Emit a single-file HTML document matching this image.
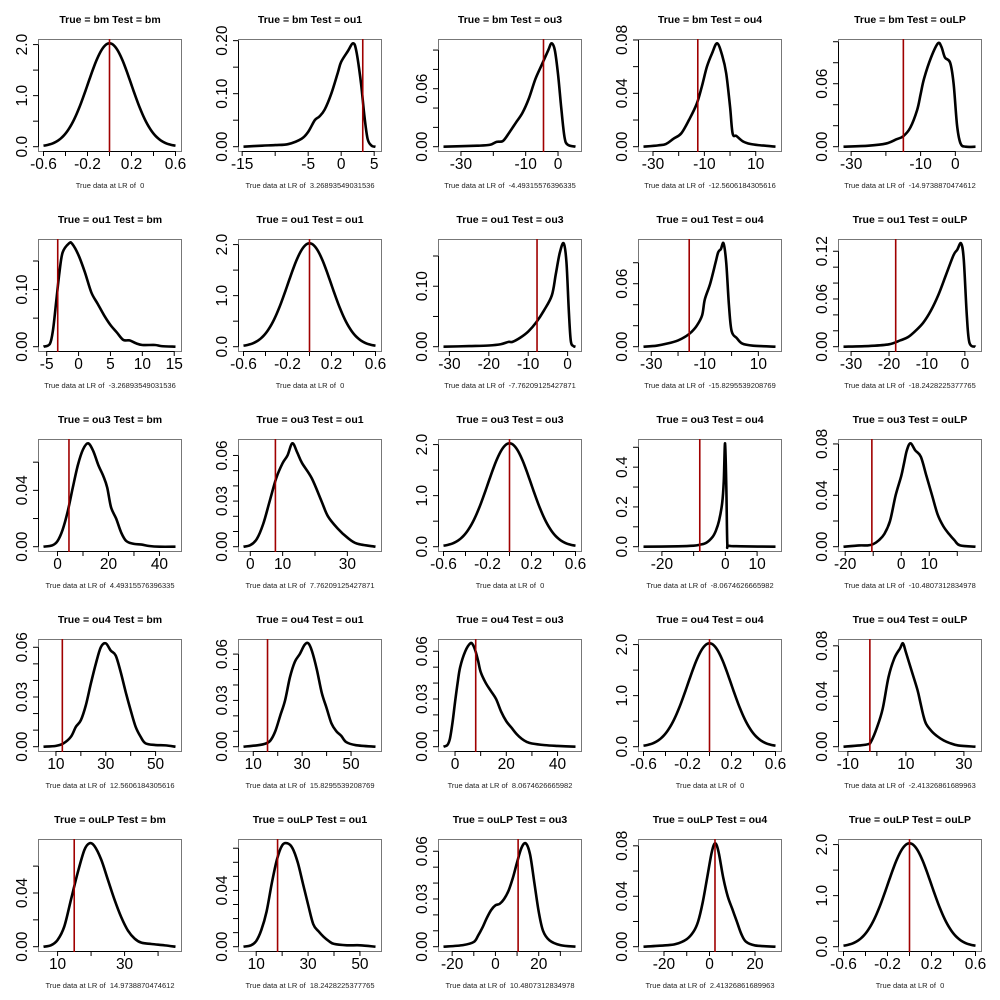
<!DOCTYPE html>
<html><head><meta charset="utf-8">
<style>
html,body{margin:0;padding:0;background:#fff;}
svg{display:block;}
text{font-family:"Liberation Sans",sans-serif;}
</style></head>
<body>
<svg id="s" width="1000" height="1000" xmlns="http://www.w3.org/2000/svg"></svg>
<script>
function gauss(){var p=[];for(var x=-0.6;x<=0.6001;x+=0.02){p.push([x,2.025*Math.exp(-x*x/(2*0.197*0.197))]);}return p;}
var G={a:-0.6,b:0.6,pk:2.025,yt:[0,0.5,1,1.5,2],yl:{0:"0.0",1:"1.0",2:"2.0"},xt:[-0.6,-0.4,-0.2,0,0.2,0.4,0.6],xl:{"-0.6":"-0.6","-0.2":"-0.2","0.2":"0.2","0.6":"0.6"},red:0,sub:"0",pts:gauss()};
function g(t,s){var o=Object.assign({},G);o.t=t;return o;}
var P=[
 [g("True = bm Test = bm"),
  {t:"True = bm Test = ou1",a:-14.8,b:5.2,pk:0.195,yt:[0,.05,.1,.15,.2],yl:{0:"0.00",0.1:"0.10",0.2:"0.20"},xt:[-15,-10,-5,0,5],xl:{"-15":"-15","-5":"-5","0":"0","5":"5"},red:3.269,sub:"3.26893549031536",
   pts:[[-14.8,0],[-12,0.002],[-10,0.003],[-8,0.005],[-6,0.015],[-5,0.028],[-4,0.05],[-3.3,0.057],[-2.5,0.07],[-1.5,0.1],[-0.5,0.14],[0,0.16],[1,0.18],[1.8,0.195],[2.3,0.18],[3,0.12],[3.5,0.06],[4,0.015],[4.6,0.002],[5.2,0]]},
  {t:"True = bm Test = ou3",a:-35.4,b:5.4,pk:0.107,yt:[0,.02,.04,.06,.08,.1],yl:{0:"0.00",0.06:"0.06"},xt:[-30,-20,-10,0],xl:{"-30":"-30","-10":"-10","0":"0"},red:-4.493,sub:"-4.49315576396335",
   pts:[[-35.4,0],[-25,0.001],[-21,0.002],[-19,0.005],[-17,0.006],[-15,0.015],[-13,0.025],[-11,0.035],[-9,0.05],[-7,0.07],[-5,0.085],[-3,0.1],[-2,0.107],[-1,0.1],[0,0.075],[1,0.04],[2,0.01],[3,0.002],[5.4,0]]},
  {t:"True = bm Test = ou4",a:-33.7,b:17.7,pk:0.0775,yt:[0,.02,.04,.06,.08],yl:{0:"0.00",0.04:"0.04",0.08:"0.08"},xt:[-30,-20,-10,0,10],xl:{"-30":"-30","-10":"-10","10":"10"},red:-12.56,sub:"-12.5606184305616",
   pts:[[-33.7,0],[-28,0.001],[-25,0.002],[-22,0.006],[-19,0.01],[-16,0.02],[-13,0.032],[-11,0.045],[-9,0.06],[-7,0.07],[-5,0.0775],[-3,0.068],[-1.5,0.055],[0,0.03],[1,0.01],[2.5,0.008],[5,0.004],[8,0.002],[12,0.001],[17.7,0]]},
  {t:"True = bm Test = ouLP",a:-32.2,b:5.8,pk:0.0985,yt:[0,.02,.04,.06,.08,.1],yl:{0:"0.00",0.06:"0.06"},xt:[-30,-20,-10,0],xl:{"-30":"-30","-10":"-10","0":"0"},red:-14.97,sub:"-14.9738870474612",
   pts:[[-32.2,0],[-25,0.001],[-20,0.003],[-17,0.007],[-15,0.01],[-13,0.018],[-11,0.035],[-10,0.05],[-9,0.065],[-7,0.085],[-5,0.0985],[-4,0.095],[-3,0.085],[-1.5,0.08],[-0.5,0.06],[0.5,0.02],[1.5,0.003],[3,0],[5.8,0]]}],
 [{t:"True = ou1 Test = bm",a:-5.5,b:15.2,pk:0.181,yt:[0,.05,.1,.15],yl:{0:"0.00",0.1:"0.10"},xt:[-5,0,5,10,15],xl:{"-5":"-5","0":"0","5":"5","10":"10","15":"15"},red:-3.269,sub:"-3.26893549031536",
   pts:[[-5.5,0],[-4.5,0.005],[-4,0.03],[-3.5,0.08],[-3,0.13],[-2.5,0.165],[-1.5,0.181],[-1,0.18],[0,0.16],[1,0.13],[2,0.095],[3,0.075],[4,0.055],[5,0.038],[6,0.025],[7,0.012],[8,0.011],[9,0.006],[10,0.003],[12,0.003],[13,0.001],[15.2,0]]},
  g("True = ou1 Test = ou1"),
  {t:"True = ou1 Test = ou3",a:-31.5,b:2,pk:0.171,yt:[0,.05,.1,.15],yl:{0:"0.00",0.1:"0.10"},xt:[-30,-20,-10,0],xl:{"-30":"-30","-20":"-20","-10":"-10","0":"0"},red:-7.762,sub:"-7.76209125427871",
   pts:[[-31.5,0],[-25,0.001],[-20,0.002],[-17,0.004],[-15,0.008],[-14,0.008],[-12,0.015],[-10,0.025],[-8,0.04],[-6,0.06],[-4,0.085],[-3,0.12],[-2,0.155],[-1,0.171],[-0.3,0.14],[0.3,0.06],[0.8,0.01],[1.5,0.001],[2,0]]},
  {t:"True = ou1 Test = ou4",a:-32.9,b:16.4,pk:0.0985,yt:[0,.02,.04,.06,.08],yl:{0:"0.00",0.06:"0.06"},xt:[-30,-20,-10,0,10],xl:{"-30":"-30","-10":"-10","10":"10"},red:-15.83,sub:"-15.8295539208769",
   pts:[[-32.9,0],[-28,0.001],[-24,0.003],[-20,0.006],[-17,0.01],[-15,0.014],[-13,0.02],[-11,0.03],[-10,0.045],[-8,0.06],[-6,0.08],[-5,0.09],[-4,0.093],[-3,0.0985],[-2,0.08],[-1,0.04],[0,0.015],[2,0.008],[4,0.003],[8,0.001],[16.4,0]]},
  {t:"True = ou1 Test = ouLP",a:-32,b:2.8,pk:0.13,yt:[0,.02,.04,.06,.08,.1,.12],yl:{0:"0.00",0.06:"0.06",0.12:"0.12"},xt:[-30,-20,-10,0],xl:{"-30":"-30","-20":"-20","-10":"-10","0":"0"},red:-18.24,sub:"-18.2428225377765",
   pts:[[-32,0],[-25,0.001],[-20,0.003],[-17,0.008],[-15,0.012],[-13,0.02],[-11,0.03],[-9,0.045],[-7,0.065],[-5,0.09],[-3,0.115],[-2,0.122],[-1,0.13],[-0.3,0.11],[0.5,0.04],[1.2,0.005],[2.8,0]]}],
 [{t:"True = ou3 Test = bm",a:-5.5,b:46.3,pk:0.0734,yt:[0,.02,.04,.06],yl:{0:"0.00",0.04:"0.04"},xt:[0,10,20,30,40],xl:{"0":"0","20":"20","40":"40"},red:4.493,sub:"4.49315576396335",
   pts:[[-5.5,0],[-2,0.001],[0,0.004],[2,0.012],[4,0.025],[6,0.042],[8,0.058],[10,0.069],[12,0.0734],[14,0.068],[16,0.058],[18,0.05],[19.5,0.042],[21,0.028],[23,0.02],[25,0.01],[27,0.004],[30,0.002],[33,0.0015],[36,0.0005],[40,0],[46.3,0]]},
  {t:"True = ou3 Test = ou1",a:-2.1,b:38.7,pk:0.068,yt:[0,.01,.02,.03,.04,.05,.06],yl:{0:"0.00",0.03:"0.03",0.06:"0.06"},xt:[0,10,20,30],xl:{"0":"0","10":"10","30":"30"},red:7.762,sub:"7.76209125427871",
   pts:[[-2.1,0],[0,0.001],[2,0.005],[4,0.015],[6,0.03],[8,0.045],[10,0.055],[11.5,0.06],[13,0.068],[14.5,0.062],[16,0.055],[19,0.045],[22,0.03],[24,0.02],[27,0.012],[30,0.006],[33,0.002],[38.7,0]]},
  g("True = ou3 Test = ou3"),
  {t:"True = ou3 Test = ou4",a:-25.8,b:15.8,pk:0.52,yt:[0,.1,.2,.3,.4,.5],yl:{0:"0.0",0.2:"0.2",0.4:"0.4"},xt:[-20,-10,0,10],xl:{"-20":"-20","0":"0","10":"10"},red:-8.067,sub:"-8.0674626665982",
   pts:[[-25.8,0],[-15,0.002],[-10,0.005],[-8,0.01],[-6,0.02],[-4,0.05],[-3,0.08],[-2,0.13],[-1,0.22],[-0.5,0.33],[-0.1,0.52],[0.3,0.3],[0.6,0.02],[1,0.005],[5,0.002],[15.8,0]]},
  {t:"True = ou3 Test = ouLP",a:-20.6,b:26.5,pk:0.0805,yt:[0,.02,.04,.06,.08],yl:{0:"0.00",0.04:"0.04",0.08:"0.08"},xt:[-20,-10,0,10,20],xl:{"-20":"-20","0":"0","10":"10"},red:-10.48,sub:"-10.4807312834978",
   pts:[[-20.6,0],[-15,0.001],[-12,0.001],[-10,0.002],[-8,0.005],[-6,0.01],[-4,0.02],[-2,0.04],[0,0.055],[1,0.065],[2,0.075],[3.3,0.0805],[5,0.075],[7,0.07],[9,0.055],[11,0.04],[13,0.025],[15,0.016],[17,0.01],[19,0.005],[21,0.001],[26.5,0]]}],
 [{t:"True = ou4 Test = bm",a:5,b:58,pk:0.0624,yt:[0,.01,.02,.03,.04,.05,.06],yl:{0:"0.00",0.03:"0.03",0.06:"0.06"},xt:[10,20,30,40,50],xl:{"10":"10","30":"30","50":"50"},red:12.56,sub:"12.5606184305616",
   pts:[[5,0],[10,0.0005],[13,0.002],[16,0.006],[18,0.012],[20,0.016],[22,0.025],[24,0.038],[26,0.05],[28,0.06],[30,0.0624],[32,0.058],[34,0.055],[36,0.045],[38,0.033],[40,0.022],[42,0.012],[44,0.006],[46,0.002],[50,0.001],[54,0.0008],[58,0]]},
  {t:"True = ou4 Test = ou1",a:6,b:60,pk:0.067,yt:[0,.01,.02,.03,.04,.05,.06],yl:{0:"0.00",0.03:"0.03",0.06:"0.06"},xt:[10,20,30,40,50],xl:{"10":"10","30":"30","50":"50"},red:15.83,sub:"15.8295539208769",
   pts:[[6,0],[12,0.001],[15,0.002],[17,0.004],[19,0.01],[21,0.02],[23,0.03],[25,0.045],[27,0.055],[29,0.06],[31,0.066],[32.5,0.067],[34,0.062],[36,0.05],[38,0.035],[40,0.025],[42,0.015],[44,0.01],[46,0.007],[48,0.003],[52,0.001],[60,0]]},
  {t:"True = ou4 Test = ou3",a:-4.5,b:47,pk:0.065,yt:[0,.01,.02,.03,.04,.05,.06],yl:{0:"0.00",0.03:"0.03",0.06:"0.06"},xt:[0,10,20,30,40],xl:{"0":"0","20":"20","40":"40"},red:8.067,sub:"8.0674626665982",
   pts:[[-4.5,0],[-3,0.001],[-2,0.005],[-1,0.015],[0,0.028],[1,0.04],[2,0.05],[4,0.06],[6,0.065],[7,0.064],[8,0.06],[9,0.054],[10,0.047],[12,0.04],[14,0.035],[16,0.03],[18,0.022],[20,0.016],[22,0.012],[24,0.008],[26,0.005],[28,0.003],[30,0.002],[35,0.001],[40,0.0005],[47,0]]},
  g("True = ou4 Test = ou4"),
  {t:"True = ou4 Test = ouLP",a:-11.5,b:34,pk:0.082,yt:[0,.02,.04,.06,.08],yl:{0:"0.00",0.04:"0.04",0.08:"0.08"},xt:[-10,0,10,20,30],xl:{"-10":"-10","10":"10","30":"30"},red:-2.413,sub:"-2.41326861689963",
   pts:[[-11.5,0],[-6,0.001],[-3,0.002],[-2,0.004],[0,0.015],[2,0.03],[4,0.055],[6,0.07],[8,0.078],[9,0.082],[10,0.075],[12,0.06],[14,0.045],[15,0.035],[16,0.025],[17,0.018],[19,0.012],[21,0.008],[23,0.005],[25,0.003],[28,0.001],[34,0]]}],
 [{t:"True = ouLP Test = bm",a:5.8,b:45.2,pk:0.077,yt:[0,.02,.04,.06],yl:{0:"0.00",0.04:"0.04"},xt:[10,20,30,40],xl:{"10":"10","30":"30"},red:14.97,sub:"14.9738870474612",
   pts:[[5.8,0],[8,0.001],[10,0.005],[12,0.015],[14,0.035],[16,0.055],[18,0.072],[19.5,0.077],[21,0.075],[23,0.065],[25,0.05],[27,0.035],[29,0.022],[31,0.012],[33,0.006],[35,0.003],[38,0.002],[42,0.001],[45.2,0]]},
  {t:"True = ouLP Test = ou1",a:5.1,b:56,pk:0.0735,yt:[0,.01,.02,.03,.04,.05,.06,.07],yl:{0:"0.00",0.04:"0.04"},xt:[10,20,30,40,50],xl:{"10":"10","30":"30","50":"50"},red:18.24,sub:"18.2428225377765",
   pts:[[5.1,0],[8,0.001],[10,0.004],[12,0.012],[14,0.025],[16,0.045],[18,0.062],[20,0.072],[22,0.0735],[24,0.07],[26,0.06],[28,0.045],[30,0.03],[32,0.016],[34,0.011],[36,0.007],[38,0.004],[40,0.002],[45,0.001],[50,0.001],[56,0]]},
  {t:"True = ouLP Test = ou3",a:-24,b:37,pk:0.065,yt:[0,.01,.02,.03,.04,.05,.06],yl:{0:"0.00",0.03:"0.03",0.06:"0.06"},xt:[-20,-10,0,10,20,30],xl:{"-20":"-20","0":"0","20":"20"},red:10.48,sub:"10.4807312834978",
   pts:[[-24,0],[-15,0.001],[-10,0.003],[-8,0.007],[-6,0.012],[-4,0.018],[-2,0.023],[0,0.026],[2,0.027],[4,0.03],[6,0.035],[8,0.043],[10,0.053],[12,0.062],[14,0.065],[16,0.058],[18,0.04],[20,0.022],[22,0.01],[25,0.004],[30,0.001],[37,0]]},
  {t:"True = ouLP Test = ou4",a:-29,b:29,pk:0.082,yt:[0,.02,.04,.06,.08],yl:{0:"0.00",0.04:"0.04",0.08:"0.08"},xt:[-20,-10,0,10,20],xl:{"-20":"-20","0":"0","20":"20"},red:2.413,sub:"2.41326861689963",
   pts:[[-29,0],[-20,0.001],[-15,0.002],[-10,0.006],[-7,0.012],[-5,0.02],[-3,0.035],[-1,0.055],[1,0.075],[2.5,0.082],[4,0.075],[6,0.055],[8,0.04],[10,0.03],[12,0.02],[14,0.01],[16,0.004],[20,0.001],[29,0]]},
  g("True = ouLP Test = ouLP")]
];
var h="";
for(var r=0;r<5;r++)for(var c=0;c<5;c++){
 var p=P[r][c],ox=c*200,oy=r*200;
 var L=38,R=181,T=39,B=151;
 var x0=L+5.5,x1=R-5.5,y0=B-4.3,y1=T+4.3;
 var X=function(v){return ox+x0+(v-p.a)/(p.b-p.a)*(x1-x0);};
 var Y=function(v){return oy+y0-(v/p.pk)*(y0-y1);};
 h+='<text x="'+(ox+110)+'" y="'+(oy+23)+'" font-size="10.5" font-weight="bold" text-anchor="middle">'+p.t+'</text>';
 h+='<rect x="'+(ox+L+.5)+'" y="'+(oy+T+.5)+'" width="'+(R-L)+'" height="'+(B-T)+'" fill="none" stroke="#777" stroke-width="1"/>';
 var xa=X(p.xt[0]),xb=X(p.xt[p.xt.length-1]);
 h+='<line x1="'+xa+'" y1="'+(oy+B+.5)+'" x2="'+xb+'" y2="'+(oy+B+.5)+'" stroke="#000"/>';
 p.xt.forEach(function(t){var px=X(t);h+='<line x1="'+px+'" y1="'+(oy+B)+'" x2="'+px+'" y2="'+(oy+B+5)+'" stroke="#000"/>';
  var k=String(t);if(p.xl[k]!==undefined)h+='<text x="'+px+'" y="'+(oy+169)+'" font-size="15.5" text-anchor="middle">'+p.xl[k]+'</text>';});
 var ya=Y(p.yt[0]),yb=Y(p.yt[p.yt.length-1]);
 h+='<line x1="'+(ox+L+.5)+'" y1="'+ya+'" x2="'+(ox+L+.5)+'" y2="'+yb+'" stroke="#000"/>';
 p.yt.forEach(function(t){var py=Y(t);h+='<line x1="'+(ox+L-5)+'" y1="'+py+'" x2="'+(ox+L)+'" y2="'+py+'" stroke="#000"/>';
  var lab=null;for(var k in p.yl){if(Math.abs(parseFloat(k)-t)<1e-9)lab=p.yl[k];}
  if(lab!==null)h+='<text transform="translate('+(ox+27)+','+py+') rotate(-90)" font-size="15.5" text-anchor="middle">'+lab+'</text>';});
 var q=p.pts.map(function(d){return [X(d[0]),Y(d[1])];});
 var d="M"+q[0][0].toFixed(2)+","+q[0][1].toFixed(2);
 for(var i=0;i<q.length-1;i++){var p0=q[i-1]||q[i],p1=q[i],p2=q[i+1],p3=q[i+2]||q[i+1];
  var c1=[p1[0]+(p2[0]-p0[0])/6,p1[1]+(p2[1]-p0[1])/6],c2=[p2[0]-(p3[0]-p1[0])/6,p2[1]-(p3[1]-p1[1])/6];
  d+=" C"+c1[0].toFixed(2)+","+c1[1].toFixed(2)+" "+c2[0].toFixed(2)+","+c2[1].toFixed(2)+" "+p2[0].toFixed(2)+","+p2[1].toFixed(2);}
 h+='<path d="'+d+'" fill="none" stroke="#000" stroke-width="2.6" stroke-linejoin="round"/>';
 var rx=X(p.red);
 h+='<line x1="'+rx+'" y1="'+(oy+T)+'" x2="'+rx+'" y2="'+(oy+B+1)+'" stroke="#a00000" stroke-width="1.6"/>';
 h+='<text x="'+(ox+110)+'" y="'+(oy+188)+'" font-size="7.5" text-anchor="middle" fill="#222">True data at LR of&#160; '+p.sub+'</text>';
}
document.getElementById("s").innerHTML=h;
</script>
</body></html>
